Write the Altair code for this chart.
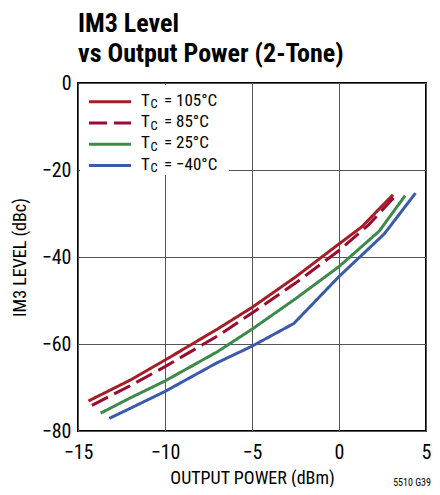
import altair as alt
import pandas as pd

# ---- data ----
series_keys = ["105", "85", "25", "-40"]
series_labels = ["= 105°C", "= 85°C", "= 25°C", "= −40°C"]
series_colors = ["#A41E25", "#9C0A30", "#3C8B4B", "#3A5BA9"]

x_105 = [-14.4, -12.0, -10.0, -7.0, -5.0, -2.5, 0.0, 1.3, 3.1]
y_105 = [-73.1, -68.3, -63.7, -56.6, -51.6, -44.6, -37.0, -33.1, -25.7]

x_85 = [-14.2, -12.0, -10.0, -7.0, -5.0, -2.5, 0.0, 1.7, 3.3]
y_85 = [-74.1, -69.6, -65.2, -58.2, -52.9, -46.0, -38.5, -32.6, -25.7]

x_25 = [-13.7, -12.0, -10.0, -7.0, -5.0, -2.5, 0.0, 2.3, 3.8]
y_25 = [-75.9, -72.4, -68.5, -61.8, -56.6, -49.6, -42.2, -34.1, -25.9]

x_m40 = [-13.2, -12.0, -10.0, -7.0, -5.0, -2.6, 0.0, 2.6, 4.4]
y_m40 = [-77.1, -74.8, -70.9, -64.3, -60.5, -55.3, -44.5, -34.7, -25.3]

x_ticks = [-15, -10, -5, 0, 5]
y_ticks = [-80, -60, -40, -20, 0]

# ---- build tables ----
rows = []
for key, xs, ys in zip(series_keys, [x_105, x_85, x_25, x_m40], [y_105, y_85, y_25, y_m40]):
    for i, (xv, yv) in enumerate(zip(xs, ys)):
        rows.append({"series": key, "x": xv, "y": yv, "i": i})
df = pd.DataFrame(rows)

leg = pd.DataFrame({"series": series_keys, "label": series_labels, "idx": list(range(len(series_keys)))})

F = "Liberation Sans Narrow, Arial Narrow, Roboto Condensed, sans-serif"

color_scale = alt.Scale(domain=series_keys, range=series_colors)
dash_scale = alt.Scale(domain=series_keys, range=[[1, 0], [18, 7], [1, 0], [1, 0]])

lines = alt.Chart(df).mark_line(strokeWidth=3).encode(
    x=alt.X("x:Q", scale=alt.Scale(domain=[-15, 5], nice=False),
            axis=alt.Axis(values=x_ticks, title="OUTPUT POWER (dBm)")),
    y=alt.Y("y:Q", scale=alt.Scale(domain=[-80, 0], nice=False),
            axis=alt.Axis(values=y_ticks, title="IM3 LEVEL (dBc)")),
    color=alt.Color("series:N", scale=color_scale, legend=None),
    strokeDash=alt.StrokeDash("series:N", scale=dash_scale, legend=None),
    order="i:Q",
)

leg_bg = alt.Chart(pd.DataFrame({"a": [0]})).mark_rect(fill="white").encode(
    x=alt.value(2), x2=alt.value(151), y=alt.value(2), y2=alt.value(92)
)

leg_base = alt.Chart(leg).transform_calculate(ly="18.7 + 21.3 * datum.idx")

leg_rule = leg_base.mark_rule(strokeWidth=3).encode(
    x=alt.value(11), x2=alt.value(53),
    y=alt.Y("ly:Q", scale=None, axis=None),
    color=alt.Color("series:N", scale=color_scale, legend=None),
    strokeDash=alt.StrokeDash("series:N", scale=dash_scale, legend=None),
)

leg_T = leg_base.mark_text(text="T", align="left", baseline="alphabetic", dy=4,
                           fontSize=17, font=F, color="black").encode(
    x=alt.value(63), y=alt.Y("ly:Q", scale=None, axis=None))
leg_C = leg_base.mark_text(text="C", align="left", baseline="alphabetic", dy=6.5,
                           fontSize=12.5, font=F, color="black").encode(
    x=alt.value(72.5), y=alt.Y("ly:Q", scale=None, axis=None))
leg_L = leg_base.mark_text(align="left", baseline="alphabetic", dy=4,
                           fontSize=17, font=F, color="black").encode(
    x=alt.value(86), y=alt.Y("ly:Q", scale=None, axis=None), text="label:N")

note = alt.Chart(pd.DataFrame({"a": [0]})).mark_text(
    text="5510 G39", align="right", baseline="alphabetic", fontSize=10, font=F, color="black"
).encode(x=alt.value(353), y=alt.value(403))

chart = alt.layer(lines, leg_bg, leg_rule, leg_T, leg_C, leg_L, note).properties(
    width=348, height=348,
    padding={"left": 70, "top": 75, "right": 6, "bottom": 56},
    autosize=alt.AutoSizeParams(type="none"),
    title=alt.TitleParams(
        text=["IM3 Level", "vs Output Power (2-Tone)"],
        anchor="start", frame="group", fontSize=26, font=F, fontWeight="bold",
        color="black", lineHeight=30, baseline="alphabetic", offset=-15,
    ),
).configure_view(stroke="black", strokeWidth=2).configure_axis(
    grid=True, gridColor="#555555", gridWidth=1, gridOpacity=1,
    domain=False, ticks=False, labelFlush=False,
    labelFont=F, labelFontSize=20, labelColor="black",
    titleFont=F, titleFontSize=18, titleFontWeight="normal", titleColor="black",
).configure_axisY(labelPadding=7, titlePadding=12).configure_axisX(labelPadding=11, titlePadding=7)

chart.save("out.html", embed_options={"renderer": "svg", "actions": False})
